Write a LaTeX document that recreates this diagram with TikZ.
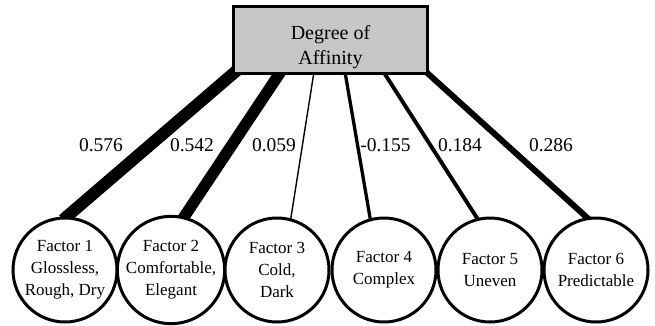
\documentclass[tikz,border=0pt]{standalone}
\usepackage{fontspec}
\setmainfont{Liberation Serif}
\usetikzlibrary{backgrounds}

\tikzset{
  deg/.style={draw, line width=3pt, fill=black!22, minimum width=194pt, minimum height=67pt},
  degtxt/.style={align=center, font=\fontsize{20}{25}\selectfont, yshift=-7.5pt},
  fac/.style={draw, circle, line width=3pt, fill=white, minimum size=104pt, inner sep=0pt,
    align=center, font=\fontsize{17}{22}\selectfont},
  wgt/.style={font=\fontsize{19.5}{22}\selectfont, inner sep=0pt},
  lnk/.style={shorten <=-9pt, shorten >=-5pt}
}

\begin{document}
\begin{tikzpicture}[x=1pt, y=-1pt]
  \useasboundingbox (0,0) rectangle (655,325);
  \node[deg, label={[degtxt]center:Degree of\\Affinity}] (deg) at (330.5,40) {};

  \node[fac] (f1) at (65,270)  {Factor 1\\Glossless,\\Rough, Dry};
  \node[fac] (f2) at (171,270) {Factor 2\\Comfortable,\\Elegant};
  \node[fac] (f3) at (277,270) {Factor 3\\Cold,\\Dark};
  \node[fac] (f4) at (384,270) {Factor 4\\Complex};
  \node[fac] (f5) at (490,270) {Factor 5\\Uneven};
  \node[fac] (f6) at (596,270) {Factor 6\\Predictable};

  \begin{scope}[on background layer]
    \draw[lnk, line width=12.1pt] ([xshift=-0.5pt]deg.south west) -- (f1.88);
    \draw[lnk, line width=11.4pt] ([xshift=46.5pt]deg.south west) -- (f2.76);
    \draw[lnk, line width=1.4pt]  ([xshift=81.5pt]deg.south west) -- (f3.75);
    \draw[lnk, line width=3.3pt]  ([xshift=113.5pt]deg.south west) -- (f4.105);
    \draw[lnk, line width=3.9pt]  ([xshift=153.5pt]deg.south west) -- (f5.104);
    \draw[lnk, line width=6pt]    ([xshift=0.5pt]deg.south east) -- (f6.100);
  \end{scope}

  \node[wgt] (w1) at (101,145)   {0.576};
  \node[wgt] (w2) at (192,145)   {0.542};
  \node[wgt] (w3) at (274,145)   {0.059};
  \node[wgt] (w4) at (385.5,145) {-0.155};
  \node[wgt] (w5) at (460,145)   {0.184};
  \node[wgt] (w6) at (551,145)   {0.286};
\end{tikzpicture}
\end{document}
